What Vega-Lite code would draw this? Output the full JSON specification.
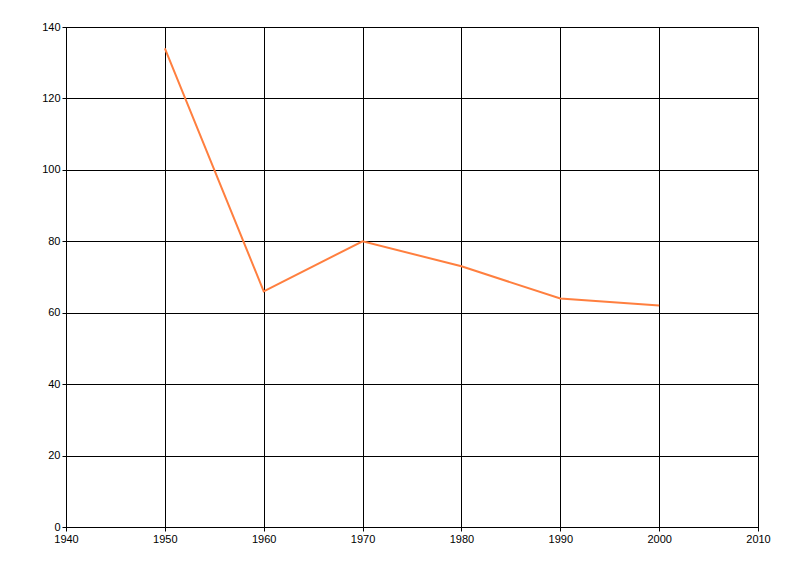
{
  "$schema": "https://vega.github.io/schema/vega-lite/v6.json",
  "autosize": {"type": "none"},
  "padding": {"left": 66, "top": 27, "right": 42, "bottom": 49},
  "width": 692,
  "height": 500,
  "background": "white",
  "config": {
    "view": {"stroke": "black", "strokeWidth": 1},
    "axis": {
      "gridColor": "black",
      "gridOpacity": 1,
      "gridWidth": 1,
      "domainColor": "black",
      "domainWidth": 1,
      "tickColor": "black",
      "tickSize": 4,
      "labelFont": "Liberation Sans",
      "labelFontSize": 11,
      "labelColor": "black",
      "labelPadding": 2
    }
  },
  "data": {
    "values": [
      {"year": 1950, "value": 134},
      {"year": 1960, "value": 66},
      {"year": 1970, "value": 80},
      {"year": 1980, "value": 73},
      {"year": 1990, "value": 64},
      {"year": 2000, "value": 62}
    ]
  },
  "mark": {"type": "line", "color": "#ff7f3f", "strokeWidth": 2},
  "encoding": {
    "x": {
      "field": "year",
      "type": "quantitative",
      "scale": {"domain": [1940, 2010], "nice": false, "zero": false},
      "axis": {"title": null, "values": [1940, 1950, 1960, 1970, 1980, 1990, 2000, 2010], "format": "d", "labelFlush": false, "labelOverlap": false}
    },
    "y": {
      "field": "value",
      "type": "quantitative",
      "scale": {"domain": [0, 140], "nice": false},
      "axis": {"title": null, "values": [0, 20, 40, 60, 80, 100, 120, 140], "labelFlush": false, "labelOverlap": false}
    }
  }
}
